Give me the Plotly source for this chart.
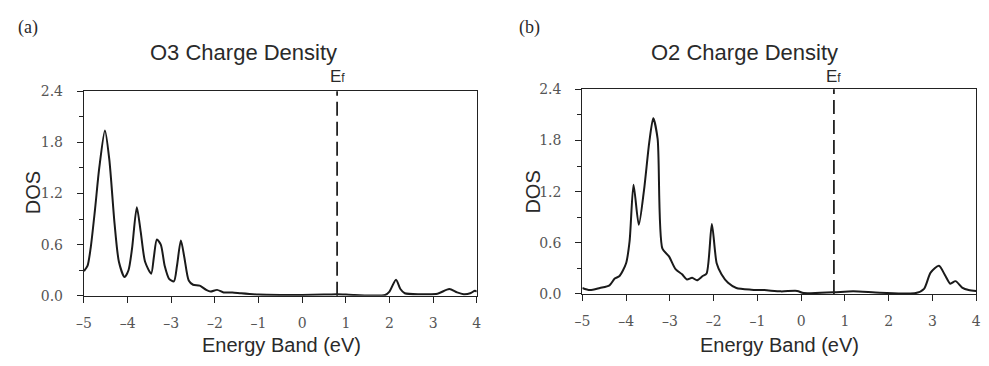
import plotly.graph_objects as go

# ---- data ----
o3_energy = [-5.0, -4.92, -4.85, -4.75, -4.65, -4.52, -4.42, -4.3, -4.2, -4.07, -3.98, -3.9, -3.79,
             -3.7, -3.6, -3.46, -3.4, -3.33, -3.24, -3.15, -3.05, -2.94, -2.87, -2.78, -2.7, -2.6,
             -2.5, -2.35, -2.2, -2.1, -1.95, -1.8, -1.6, -1.4, -1.0, -0.5, 0.0, 0.5, 0.8, 1.2, 1.9,
             2.0, 2.15, 2.25, 2.35, 2.8, 3.1, 3.37, 3.55, 3.7, 3.85, 3.96, 4.0]
o3_dos = [0.29, 0.35, 0.55, 1.0, 1.5, 1.94, 1.6, 0.85, 0.4, 0.22, 0.3, 0.55, 1.04,
          0.75, 0.4, 0.26, 0.45, 0.66, 0.6, 0.35, 0.2, 0.17, 0.35, 0.65, 0.45, 0.18,
          0.13, 0.12, 0.07, 0.05, 0.07, 0.04, 0.04, 0.03, 0.015, 0.01, 0.01, 0.015, 0.02, 0.01, 0.01,
          0.05, 0.19, 0.08, 0.03, 0.02, 0.025, 0.08, 0.04, 0.02, 0.03, 0.06, 0.05]

o2_energy = [-5.0, -4.83, -4.6, -4.38, -4.26, -4.15, -4.0, -3.92, -3.83, -3.71, -3.59, -3.47, -3.38,
             -3.28, -3.17, -3.02, -2.87, -2.72, -2.61, -2.49, -2.38, -2.25, -2.16, -2.04, -1.93,
             -1.82, -1.67, -1.48, -1.14, -0.84, -0.46, -0.09, 0.06, 0.74, 1.19, 1.8, 2.62, 2.81,
             2.96, 3.15, 3.3, 3.41, 3.53, 3.68, 3.83, 4.0]
o2_dos = [0.07, 0.045, 0.07, 0.10, 0.18, 0.21, 0.36, 0.62, 1.28, 0.81, 1.22, 1.78, 2.06,
          1.82, 0.53, 0.44, 0.29, 0.23, 0.17, 0.19, 0.16, 0.21, 0.24, 0.82, 0.36,
          0.23, 0.13, 0.07, 0.05, 0.045, 0.03, 0.035, 0.01, 0.02, 0.03, 0.015, 0.01, 0.06,
          0.25, 0.33, 0.21, 0.12, 0.15, 0.075, 0.045, 0.035]

ef_values = [0.8, 0.75]
titles = ["O3 Charge Density", "O2 Charge Density"]
panel_labels = ["(a)", "(b)"]
x_title = "Energy Band (eV)"
y_title = "DOS"
x_ticks = [-5, -4, -3, -2, -1, 0, 1, 2, 3, 4]
y_ticks = [0.0, 0.6, 1.2, 1.8, 2.4]

x_ticktext = [str(v).replace("-", "\u2013") for v in x_ticks]
y_ticktext = [f"{v:.1f}" for v in y_ticks]

W, H = 989, 366
fig = go.Figure()

line_style = dict(color="#1a1a1a", width=2, shape="spline", smoothing=0.7)
fig.add_trace(go.Scatter(x=o3_energy, y=o3_dos, mode="lines", xaxis="x", yaxis="y",
                         line=line_style, showlegend=False))
fig.add_trace(go.Scatter(x=o2_energy, y=o2_dos, mode="lines", xaxis="x2", yaxis="y2",
                         line=line_style, showlegend=False))

tickfont = dict(family="DejaVu Serif", size=14, color="#555")
sans = "Liberation Sans, Arial"
txt = "#2a2a2a"

def xaxis(domain, anchor):
    return dict(domain=domain, anchor=anchor, range=[-5, 4], tickvals=x_ticks, ticktext=x_ticktext,
                showline=True, linecolor="#222", linewidth=1.3, mirror=True,
                ticks="outside", ticklen=6, tickcolor="#222", tickwidth=1.3,
                ticklabelstandoff=8,
                showgrid=False, zeroline=False, tickfont=tickfont)

def yaxis(domain, anchor):
    return dict(domain=domain, anchor=anchor, range=[0, 2.4], tickvals=y_ticks, ticktext=y_ticktext,
                showline=True, linecolor="#222", linewidth=1.3, mirror=True,
                ticks="outside", ticklen=6, tickcolor="#222", tickwidth=1.3,
                ticklabelstandoff=11,
                minor=dict(dtick=0.3, ticks="outside", ticklen=4, tickcolor="#222", tickwidth=1.1),
                showgrid=False, zeroline=False, tickfont=tickfont)

fig.update_layout(
    width=W, height=H, margin=dict(l=0, r=0, t=0, b=0),
    paper_bgcolor="white", plot_bgcolor="white",
    xaxis=xaxis([77 / W, 475 / W], "y"),
    yaxis=yaxis([1 - 301 / H, 1 - 87 / H], "x"),
    xaxis2=xaxis([582 / W, 981 / W], "y2"),
    yaxis2=yaxis([1 - 299 / H, 1 - 85 / H], "x2"),
)

title_x = [239, 746]
label_x = [20, 528]
ytitle_x = [25, 532]
xtitle_x = [277, 782]
for i in range(2):
    xr = "x" if i == 0 else "x2"
    yr = "y" if i == 0 else "y2"
    fig.add_shape(type="line", xref=xr, yref=yr + " domain", x0=ef_values[i], x1=ef_values[i],
                  y0=0, y1=1, line=dict(color="#222", width=1.8, dash="14px,6px"))
    fig.add_annotation(xref=xr, yref="paper", x=ef_values[i], y=1 - 72 / H,
                       text="E<span style='font-size:12px'>f</span>",
                       showarrow=False, font=dict(family=sans, size=17, color=txt),
                       xanchor="center", yanchor="middle")
    fig.add_annotation(xref="paper", yref="paper", x=title_x[i] / W, y=1 - 47 / H, text=titles[i],
                       showarrow=False, font=dict(family=sans, size=22, color=txt),
                       xanchor="center", yanchor="middle")
    fig.add_annotation(xref="paper", yref="paper", x=label_x[i] / W, y=1 - 20 / H, text=panel_labels[i],
                       showarrow=False, font=dict(family="Liberation Serif", size=18, color=txt),
                       xanchor="center", yanchor="middle")
    fig.add_annotation(xref="paper", yref="paper", x=ytitle_x[i] / W, y=1 - 193 / H, text=y_title,
                       textangle=-90, showarrow=False, font=dict(family=sans, size=20, color=txt),
                       xanchor="center", yanchor="middle")
    fig.add_annotation(xref="paper", yref="paper", x=xtitle_x[i] / W, y=1 - 352 / H, text=x_title,
                       showarrow=False, font=dict(family=sans, size=20, color=txt),
                       xanchor="center", yanchor="middle")

fig.write_html("out.html")
